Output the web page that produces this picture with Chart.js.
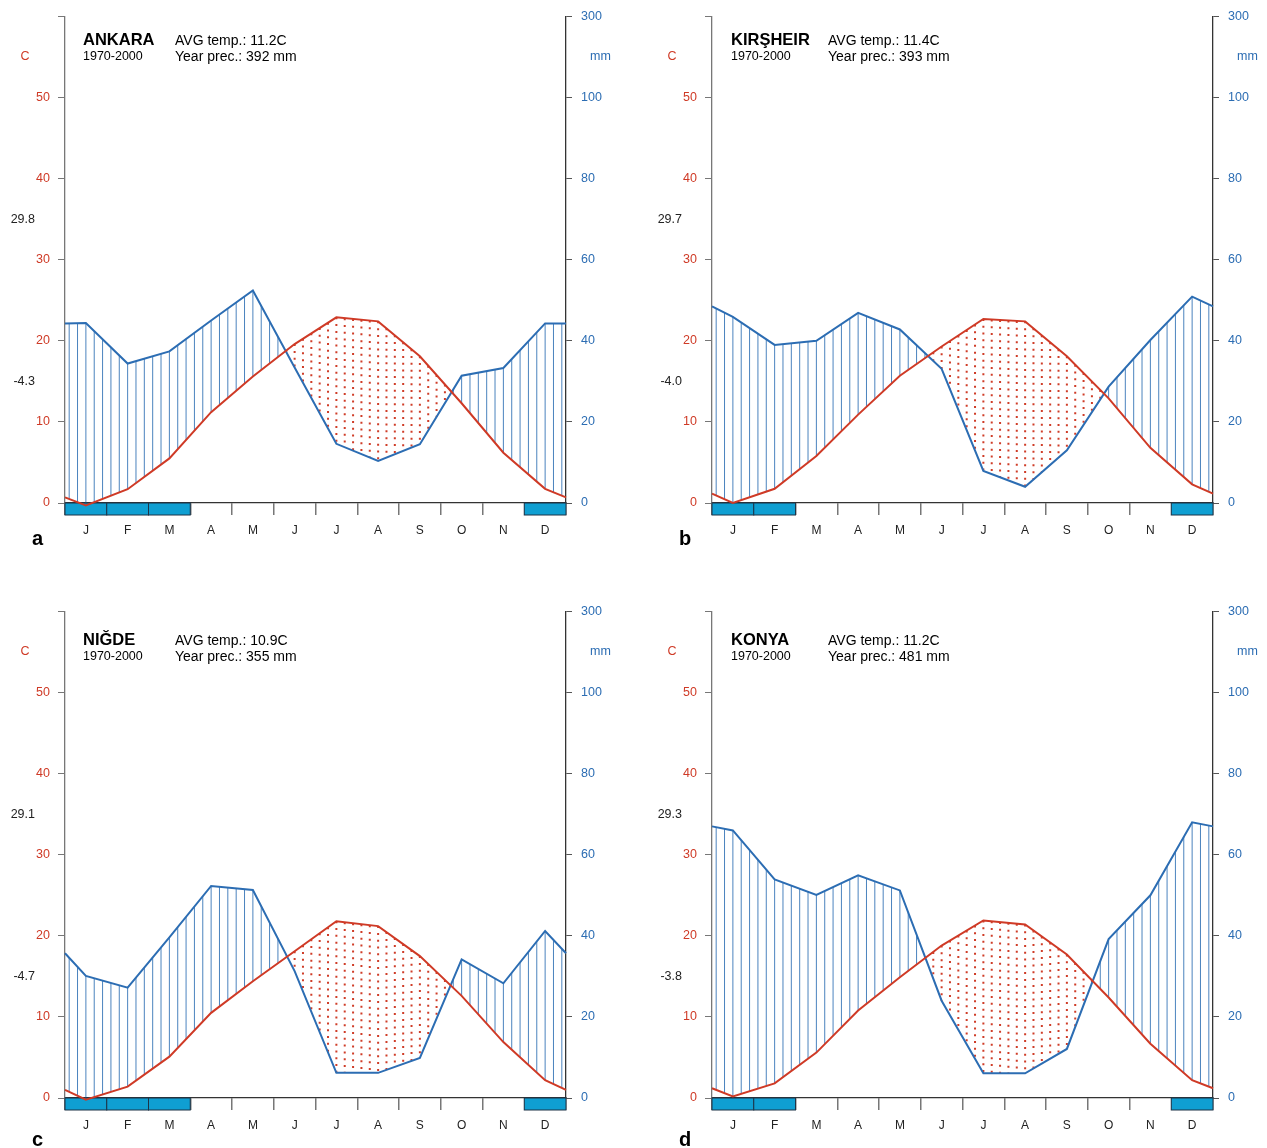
<!DOCTYPE html>
<html>
<head>
<meta charset="utf-8">
<script src="https://cdn.jsdelivr.net/npm/chart.js@4.4.1/dist/chart.umd.min.js"></script>
<style>
  body { margin: 0; background: #fff; }
  #wrap { position: relative; width: 1267px; height: 1148px; overflow: hidden; }
  canvas { position: absolute; }
</style>
</head>
<body>
<div id="wrap">
  <canvas id="chartA" width="620" height="553" style="left:0;top:0"></canvas>
  <canvas id="chartB" width="620" height="553" style="left:647px;top:0"></canvas>
  <canvas id="chartC" width="620" height="553" style="left:0;top:595px"></canvas>
  <canvas id="chartD" width="620" height="553" style="left:647px;top:595px"></canvas>
</div>
<script>
const months = ['J', 'F', 'M', 'A', 'M', 'J', 'J', 'A', 'S', 'O', 'N', 'D'];

// monthly mean temperature (C)
const ankaraTemp = [-0.3, 1.7, 5.5, 11.2, 15.6, 19.6, 22.9, 22.4, 18.1, 12.3, 6.2, 1.75];
const kirsehirTemp = [0.0, 1.75, 5.8, 10.9, 15.7, 19.3, 22.7, 22.4, 18.1, 12.9, 6.8, 2.3];
const nigdeTemp = [-0.2, 1.4, 5.1, 10.5, 14.4, 18.1, 21.8, 21.2, 17.5, 12.6, 6.9, 2.2];
const konyaTemp = [0.2, 1.8, 5.6, 10.8, 14.9, 18.8, 21.9, 21.4, 17.7, 12.4, 6.7, 2.2];

// monthly precipitation (mm)
const ankaraPrec = [44.4, 34.4, 37.4, 45.0, 52.4, 33.4, 14.6, 10.4, 14.5, 31.4, 33.3, 44.3];
const kirsehirPrec = [45.9, 39.0, 40.0, 46.9, 42.8, 33.1, 7.9, 4.0, 13.0, 28.7, 40.2, 50.9];
const nigdePrec = [30.1, 27.2, 39.6, 52.3, 51.3, 31.3, 6.2, 6.2, 9.9, 34.2, 28.3, 41.2];
const konyaPrec = [66.0, 53.9, 50.1, 54.9, 51.2, 24.0, 6.1, 6.1, 12.1, 39.2, 50.0, 68.0];

// values of the lines at the left / right border of each diagram
const tempEdges = [0.7, 1.15, 1.0, 1.2];
const precEdges = [44.3, 48.5, 35.7, 67.0];

// frost months (index into months)
const ankaraFrost = [0, 1, 2, 11];
const kirsehirFrost = [0, 1, 11];
const nigdeFrost = [0, 1, 2, 11];
const konyaFrost = [0, 1, 11];

const stationNames = ['ANKARA', 'KIRŞHEIR', 'NIĞDE', 'KONYA'];
const periods = ['1970-2000', '1970-2000', '1970-2000', '1970-2000'];
const avgTemps = ['11.2', '11.4', '10.9', '11.2'];
const yearPrecs = ['392', '393', '355', '481'];
const maxLabels = ['29.8', '29.7', '29.1', '29.3'];
const minLabels = ['-4.3', '-4.0', '-4.7', '-3.8'];
const panelLetters = ['a', 'b', 'c', 'd'];

// axis ticks
const tempTicks = [0, 10, 20, 30, 40, 50, 60];
const precTicks = [0, 20, 40, 60, 80, 100, 120];
const precTopLabel = '300';

const RED = '#cf3a26';
const BLUE = '#2c6db3';
const FONT = '"Liberation Sans", Arial, sans-serif';
Chart.defaults.font.family = FONT;

const interp = (pts, x) => {
    for (let i = 0; i < pts.length - 1; i++) {
        const a = pts[i], b = pts[i + 1];
        if (x >= a.x && x <= b.x) {
            return a.y + (b.y - a.y) * (x - a.x) / (b.x - a.x);
        }
    }
    return pts[pts.length - 1].y;
};

const climatePlugin = {
    id: 'climate',
    beforeDatasetsDraw(chart, args, opts) {
        const {ctx} = chart;
        const xs = chart.scales.x, yt = chart.scales.yT;
        const tLine = chart.data.datasets[0].data;
        const pLine = chart.data.datasets[1].data;
        ctx.save();
        // 湿润期竖线 / 干旱期点线
        for (let k = 0; k < 60; k++) {
            const xv = 0.1 + 0.2 * k;
            const t = interp(tLine, xv);
            const p = interp(pLine, xv) / 2;
            const px = xs.getPixelForValue(xv);
            ctx.beginPath();
            if (p > t) {
                ctx.setLineDash([]);
                ctx.strokeStyle = 'rgba(44,109,179,0.85)';
                ctx.lineWidth = 1;
            } else {
                ctx.setLineDash([2, 4.8]);
                ctx.strokeStyle = '#cf3d28';
                ctx.lineWidth = 2;
            }
            ctx.moveTo(px, yt.getPixelForValue(t));
            ctx.lineTo(px, yt.getPixelForValue(p));
            ctx.stroke();
        }
        // frost boxes
        ctx.setLineDash([]);
        const y0 = yt.getPixelForValue(0);
        opts.frost.forEach(i => {
            const l = xs.getPixelForValue(i), r = xs.getPixelForValue(i + 1);
            ctx.fillStyle = '#0f9fd2';
            ctx.fillRect(l, y0, r - l, 12);
            ctx.strokeStyle = '#1d3347';
            ctx.lineWidth = 1;
            ctx.strokeRect(l, y0, r - l, 12);
        });
        ctx.restore();
    },
    afterDraw(chart, args, opts) {
        const {ctx} = chart;
        const yt = chart.scales.yT;
        ctx.save();
        ctx.textBaseline = 'middle';
        ctx.textAlign = 'left';
        ctx.fillStyle = '#000';
        ctx.font = `bold 16.5px ${FONT}`;
        ctx.fillText(opts.name, opts.nameX, opts.titleY);
        ctx.font = `12.5px ${FONT}`;
        ctx.fillText(opts.period, opts.nameX, opts.titleY + 17);
        ctx.font = `14px ${FONT}`;
        ctx.fillText(`AVG temp.: ${opts.avg}C`, opts.avgX, opts.titleY + 1);
        ctx.fillText(`Year prec.: ${opts.prec} mm`, opts.avgX, opts.titleY + 17);

        ctx.font = `12.5px ${FONT}`;
        ctx.fillStyle = RED;
        ctx.textAlign = 'center';
        ctx.fillText('C', 25, yt.getPixelForValue(55));
        ctx.fillStyle = BLUE;
        ctx.textAlign = 'left';
        ctx.fillText('mm', 590, yt.getPixelForValue(55));

        ctx.fillStyle = '#222';
        ctx.textAlign = 'right';
        ctx.fillText(opts.maxLabel, 35, yt.getPixelForValue(35));
        ctx.fillText(opts.minLabel, 35, yt.getPixelForValue(15));

        ctx.font = `bold 20px ${FONT}`;
        ctx.fillStyle = '#000';
        ctx.textAlign = 'left';
        ctx.textBaseline = 'alphabetic';
        ctx.fillText(opts.letter, 32, opts.letterY);
        ctx.restore();
    }
};

const buildLine = (vals, edge) => [
    {x: 0, y: edge},
    ...vals.map((v, i) => ({x: i + 0.5, y: v})),
    {x: 12, y: edge}
];

const drawChart = (canvasId, idx, temps, precs, frost, row, col) => {
    const ctx = document.getElementById(canvasId).getContext('2d');
    new Chart(ctx, {
        type: 'line',
        data: {
            datasets: [{
                label: 'temp',
                data: buildLine(temps, tempEdges[idx]),
                yAxisID: 'yT',
                borderColor: RED,
                borderWidth: 2,
                pointRadius: 0,
                tension: 0,
                clip: false
            }, {
                label: 'prec',
                data: buildLine(precs, precEdges[idx]),
                yAxisID: 'yP',
                borderColor: BLUE,
                borderWidth: 2,
                pointRadius: 0,
                tension: 0,
                clip: false
            }]
        },
        options: {
            responsive: false,
            animation: false,
            layout: {padding: {top: 14, left: 0, right: 0, bottom: 0}},
            plugins: {
                legend: {display: false},
                tooltip: {enabled: false},
                climate: {
                    frost: frost,
                    name: stationNames[idx],
                    period: periods[idx],
                    avg: avgTemps[idx],
                    prec: yearPrecs[idx],
                    maxLabel: maxLabels[idx],
                    minLabel: minLabels[idx],
                    letter: panelLetters[idx],
                    nameX: col === 0 ? 83 : 84,
                    avgX: col === 0 ? 175 : 181,
                    titleY: row === 0 ? 40 : 45,
                    letterY: row === 0 ? 545 : 551
                }
            },
            scales: {
                x: {
                    type: 'linear',
                    position: 'bottom',
                    min: 0,
                    max: 12,
                    afterBuildTicks: s => { s.ticks = months.concat(['']).map((m, i) => ({value: i})); },
                    afterFit: s => { s.height = 50; },
                    ticks: {
                        callback: (v, i) => months[i] ?? '',
                        labelOffset: 20.875,
                        maxRotation: 0,
                        autoSkip: false,
                        padding: 8,
                        color: '#222',
                        font: {size: 12}
                    },
                    grid: {drawOnChartArea: false, tickLength: 12, color: '#777', lineWidth: 1.5},
                    border: {color: '#333', width: 1.3}
                },
                yT: {
                    type: 'linear',
                    position: 'left',
                    min: 0,
                    max: 60,
                    afterBuildTicks: s => { s.ticks = tempTicks.map(v => ({value: v})); },
                    afterFit: s => { s.width = 65; },
                    ticks: {
                        callback: v => v === 60 ? '' : v,
                        color: RED,
                        padding: 8,
                        font: {size: 12.5}
                    },
                    grid: {drawOnChartArea: false, tickLength: 7, color: '#777'},
                    border: {color: '#777', width: 1.3}
                },
                yP: {
                    type: 'linear',
                    position: 'right',
                    min: 0,
                    max: 120,
                    afterBuildTicks: s => { s.ticks = precTicks.map(v => ({value: v})); },
                    afterFit: s => { s.width = 54; },
                    ticks: {
                        callback: v => v === 120 ? precTopLabel : v,
                        color: BLUE,
                        padding: 9,
                        font: {size: 12.5}
                    },
                    grid: {drawOnChartArea: false, tickLength: 6, color: '#555'},
                    border: {color: '#333', width: 1.3}
                }
            }
        },
        plugins: [climatePlugin]
    });
};

drawChart('chartA', 0, ankaraTemp, ankaraPrec, ankaraFrost, 0, 0);
drawChart('chartB', 1, kirsehirTemp, kirsehirPrec, kirsehirFrost, 0, 1);
drawChart('chartC', 2, nigdeTemp, nigdePrec, nigdeFrost, 1, 0);
drawChart('chartD', 3, konyaTemp, konyaPrec, konyaFrost, 1, 1);
</script>
</body>
</html>
